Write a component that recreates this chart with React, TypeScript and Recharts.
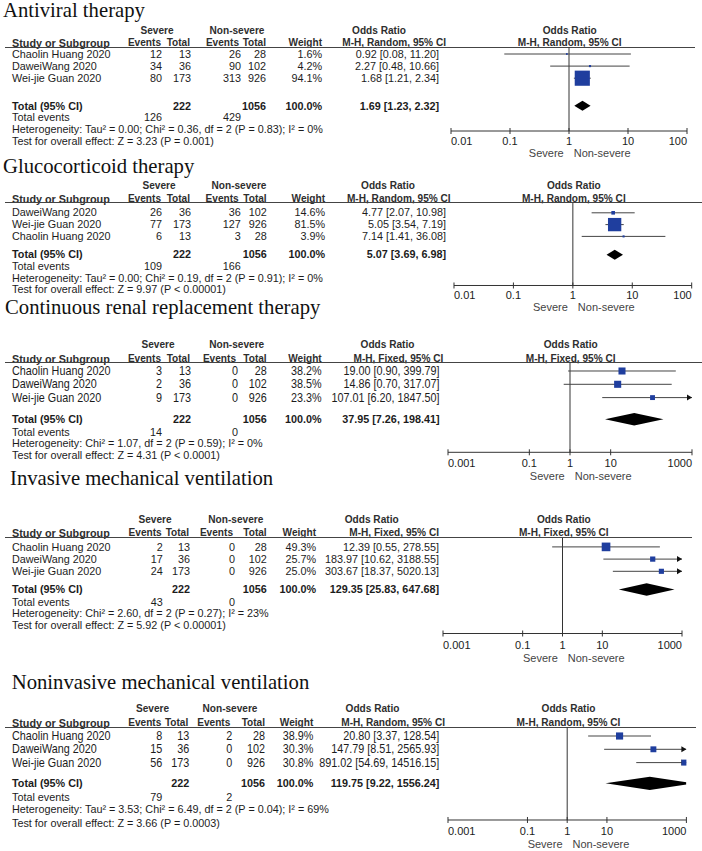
import React from "react";
import { ScatterChart, Scatter, XAxis, YAxis, ReferenceLine } from "recharts";

// ---------------- DATA ----------------
const panelTitles = [
  "Antiviral therapy",
  "Glucocorticoid therapy",
  "Continuous renal replacement therapy",
  "Invasive mechanical ventilation",
  "Noninvasive mechanical ventilation",
];
const panelMethods = [
  "M-H, Random, 95% CI",
  "M-H, Random, 95% CI",
  "M-H, Fixed, 95% CI",
  "M-H, Fixed, 95% CI",
  "M-H, Random, 95% CI",
];

// [study, severe events, severe total, non-severe events, non-severe total, weight %, OR, CI low, CI high]
const antiviralRows = [
  ["Chaolin Huang 2020", 12, 13, 26, 28, 1.6, 0.92, 0.08, 11.2],
  ["DaweiWang 2020", 34, 36, 90, 102, 4.2, 2.27, 0.48, 10.66],
  ["Wei-jie Guan 2020", 80, 173, 313, 926, 94.1, 1.68, 1.21, 2.34],
];
const glucocorticoidRows = [
  ["DaweiWang 2020", 26, 36, 36, 102, 14.6, 4.77, 2.07, 10.98],
  ["Wei-jie Guan 2020", 77, 173, 127, 926, 81.5, 5.05, 3.54, 7.19],
  ["Chaolin Huang 2020", 6, 13, 3, 28, 3.9, 7.14, 1.41, 36.08],
];
const crrtRows = [
  ["Chaolin Huang 2020", 3, 13, 0, 28, 38.2, 19.0, 0.9, 399.79],
  ["DaweiWang 2020", 2, 36, 0, 102, 38.5, 14.86, 0.7, 317.07],
  ["Wei-jie Guan 2020", 9, 173, 0, 926, 23.3, 107.01, 6.2, 1847.5],
];
const invasiveRows = [
  ["Chaolin Huang 2020", 2, 13, 0, 28, 49.3, 12.39, 0.55, 278.55],
  ["DaweiWang 2020", 17, 36, 0, 102, 25.7, 183.97, 10.62, 3188.55],
  ["Wei-jie Guan 2020", 24, 173, 0, 926, 25.0, 303.67, 18.37, 5020.13],
];
const noninvasiveRows = [
  ["Chaolin Huang 2020", 8, 13, 2, 28, 38.9, 20.8, 3.37, 128.54],
  ["DaweiWang 2020", 15, 36, 0, 102, 30.3, 147.79, 8.51, 2565.93],
  ["Wei-jie Guan 2020", 56, 173, 0, 926, 30.8, 891.02, 54.69, 14516.15],
];
const panelRows = [antiviralRows, glucocorticoidRows, crrtRows, invasiveRows, noninvasiveRows];

// [severe total, non-severe total, weight %, OR, CI low, CI high, severe events, non-severe events]
const pooledTotals = [
  [222, 1056, 100, 1.69, 1.23, 2.32, 126, 429],
  [222, 1056, 100, 5.07, 3.69, 6.98, 109, 166],
  [222, 1056, 100, 37.95, 7.26, 198.41, 14, 0],
  [222, 1056, 100, 129.35, 25.83, 647.68, 43, 0],
  [222, 1056, 100, 119.75, 9.22, 1556.24, 79, 2],
];
const heterogeneityTexts = [
  "Heterogeneity: Tau\u00b2 = 0.00; Chi\u00b2 = 0.36, df = 2 (P = 0.83); I\u00b2 = 0%",
  "Heterogeneity: Tau\u00b2 = 0.00; Chi\u00b2 = 0.19, df = 2 (P = 0.91); I\u00b2 = 0%",
  "Heterogeneity: Chi\u00b2 = 1.07, df = 2 (P = 0.59); I\u00b2 = 0%",
  "Heterogeneity: Chi\u00b2 = 2.60, df = 2 (P = 0.27); I\u00b2 = 23%",
  "Heterogeneity: Tau\u00b2 = 3.53; Chi\u00b2 = 6.49, df = 2 (P = 0.04); I\u00b2 = 69%",
];
const overallEffectTexts = [
  "Test for overall effect: Z = 3.23 (P = 0.001)",
  "Test for overall effect: Z = 9.97 (P < 0.00001)",
  "Test for overall effect: Z = 4.31 (P < 0.0001)",
  "Test for overall effect: Z = 5.92 (P < 0.00001)",
  "Test for overall effect: Z = 3.66 (P = 0.0003)",
];
const axisTicks = [
  [0.01, 0.1, 1, 10, 100],
  [0.01, 0.1, 1, 10, 100],
  [0.001, 0.1, 1, 10, 1000],
  [0.001, 0.1, 1, 10, 1000],
  [0.001, 0.1, 1, 10, 1000],
];
const favoursLabels = ["Severe", "Non-severe"];

// ---------------- LAYOUT (pixels) ----------------
const LAYOUT = [
  { tx: 3, tyBase: 17.3, h1: 31, h2: 43.3, line: 47, lineEnd: 695, row0: 54, step: 12.1, total: 105.7, tev: 117.3, het: 129.3, test: 141, axis: 131, tickDy: 10, sev: 153, xMin: 450.7, xMax: 686.7, cols: [162, 191, 241, 266, 322, 439], sevC: 157, nsC: 237, orC: 379, mhR: 446, dh: 5, sy: 1.0 },
  { tx: 3, tyBase: 173.5, h1: 185.5, h2: 198.7, line: 202.5, lineEnd: 701.7, row0: 212.3, step: 11.8, total: 254.3, tev: 266, het: 277.7, test: 289.3, axis: 285, tickDy: 10, sev: 306.7, xMin: 454, xMax: 691.7, cols: [162, 191, 240.7, 266.7, 325, 446], sevC: 159, nsC: 239, orC: 388, mhR: 450.7, dh: 5, sy: 1.0 },
  { tx: 5, tyBase: 314, h1: 345, h2: 359, line: 362, lineEnd: 701.7, row0: 371, step: 13.3, total: 419.3, tev: 431.7, het: 443.3, test: 455, axis: 452.3, tickDy: 10.4, sev: 476, xMin: 447.7, xMax: 691.7, cols: [162, 191, 238, 266.7, 321.7, 439.5], sevC: 158, nsC: 236.7, orC: 387.5, mhR: 443.3, dh: 6.3, sy: 1.1 },
  { tx: 10, tyBase: 485, h1: 520, h2: 533.3, line: 537.8, lineEnd: 691.7, row0: 546.7, step: 12.2, total: 589.3, tev: 601.7, het: 613.3, test: 625, axis: 633.3, tickDy: 11, sev: 658.3, xMin: 443.3, xMax: 682.3, cols: [162.7, 190, 235, 266.7, 316, 439], sevC: 155, nsC: 235.8, orC: 371.7, mhR: 439, dh: 6.3, sy: 1.0 },
  { tx: 11.7, tyBase: 689, h1: 709.3, h2: 722.7, line: 727, lineEnd: 695.7, row0: 736, step: 13.3, total: 783.3, tev: 796.7, het: 809.3, test: 822.7, axis: 820, tickDy: 11.5, sev: 843.8, xMin: 448.3, xMax: 686.7, cols: [162.3, 189.3, 232.3, 265, 313.3, 439.3], sevC: 152.5, nsC: 230, orC: 372.5, mhR: 445, dh: 6.6, sy: 1.1 },
];

const SANS = "'Liberation Sans', Arial, Helvetica, sans-serif";
const SERIF = "'Liberation Serif', 'Times New Roman', serif";
const FS = 10.8;
const HFS = 10.1;
const BLUE = "#1f3e9e";
const TXT = "#1c1c1c";
const HDR = "#2e2e2e";

type TxtProps = { x: number; y: number; a?: "start" | "middle" | "end"; b?: boolean; fs?: number; c?: string; ff?: string; sy?: number; lh?: number; children: React.ReactNode };
function Txt({ x, y, a = "start", b = false, fs = FS, c = TXT, ff = SANS, sy = 1, lh = 0.78, children }: TxtProps) {
  const tx = a === "end" ? "-100%" : a === "middle" ? "-50%" : "0";
  return (
    <div
      style={{
        position: "absolute",
        left: x,
        top: y,
        transform: `translate(${tx}, -50%) scaleY(${sy})`,
        fontSize: fs,
        lineHeight: lh,
        fontWeight: b ? 700 : 400,
        color: c,
        fontFamily: ff,
        whiteSpace: "nowrap",
      }}
    >
      {children}
    </div>
  );
}

const fmt2 = (v: number) => v.toFixed(2);
const ciText = (or: number, lo: number, hi: number) => `${fmt2(or)} [${fmt2(lo)}, ${fmt2(hi)}]`;

const Empty = () => <g />;

const Square = (p: any) => {
  const s = 1.5 + 0.145 * p.payload.w;
  return <rect x={p.cx - s / 2} y={p.cy - s / 2} width={s} height={s} fill={BLUE} />;
};

const ciLine = (arrowRight: boolean) => (lp: any) => {
  const pts = lp.points || [];
  if (pts.length < 2) return <g />;
  const a = pts[0];
  const b = pts[1];
  return (
    <g>
      <line x1={a.x} y1={a.y} x2={b.x} y2={b.y} stroke="#444" strokeWidth={1} />
      {arrowRight && (
        <polygon points={`${b.x},${b.y} ${b.x - 5},${b.y - 3} ${b.x - 5},${b.y + 3}`} fill="#111" />
      )}
    </g>
  );
};

function clipX(poly: number[][], xc: number, keepGreater: boolean) {
  const out: number[][] = [];
  for (let i = 0; i < poly.length; i++) {
    const P = poly[i];
    const Q = poly[(i + 1) % poly.length];
    const inP = keepGreater ? P[0] >= xc : P[0] <= xc;
    const inQ = keepGreater ? Q[0] >= xc : Q[0] <= xc;
    if (inP) out.push(P);
    if (inP !== inQ) {
      const t = (xc - P[0]) / (Q[0] - P[0]);
      out.push([xc, P[1] + t * (Q[1] - P[1])]);
    }
  }
  return out;
}

const diamondLine = (h: number) => (lp: any) => {
  const pts = lp.points || [];
  if (pts.length < 5) return <g />;
  const [lo, mid, hi, left, right] = pts;
  const cy = mid.y;
  let poly = [
    [lo.x, cy],
    [mid.x, cy - h],
    [hi.x, cy],
    [mid.x, cy + h],
  ];
  poly = clipX(poly, left.x, true);
  poly = clipX(poly, right.x, false);
  return <polygon points={poly.map((p) => p.join(",")).join(" ")} fill="#000" />;
};

function ForestPlot({ idx }: { idx: number }) {
  const L = LAYOUT[idx];
  const rows = panelRows[idx];
  const tot = pooledTotals[idx];
  const ticks = axisTicks[idx];
  const dMin = ticks[0];
  const dMax = ticks[ticks.length - 1];
  const plotW = L.xMax - L.xMin;
  const plotH = L.axis - L.line;
  const mX = 20;
  const mT = 2;
  const axisH = 30;
  const rTop = (L.line - L.row0) / L.step;
  const rBot = (L.axis - L.row0) / L.step;
  const rTotal = (L.total - L.row0) / L.step;
  const clamp = (v: number) => Math.max(dMin, Math.min(dMax, v));

  const squares = rows.map((r: any[], i: number) => ({ x: r[6], y: i, w: r[5] }));
  const diamondData = [
    { x: tot[4], y: rTotal },
    { x: tot[3], y: rTotal },
    { x: tot[5], y: rTotal },
    { x: dMin, y: rTotal },
    { x: dMax, y: rTotal },
  ];

  const tickRenderer = (props: any) => {
    const { x, y, payload } = props;
    const v = payload.value;
    const anchor = v === dMin ? "start" : v === dMax ? "end" : "middle";
    return (
      <g>
        <line x1={x} x2={x} y1={y - 3} y2={y + 3} stroke="#333" strokeWidth={1} />
        <text
          x={x}
          y={y + L.tickDy}
          textAnchor={anchor}
          dominantBaseline="central"
          fontSize={11}
          fill={TXT}
          fontFamily={SANS}
        >
          {String(v)}
        </text>
      </g>
    );
  };

  return (
    <div style={{ position: "absolute", left: L.xMin - mX, top: L.line - mT }}>
      <ScatterChart
        width={plotW + 2 * mX}
        height={plotH + mT + axisH}
        margin={{ top: mT, right: mX, bottom: 0, left: mX }}
      >
        <XAxis
          type="number"
          dataKey="x"
          scale="log"
          domain={[dMin, dMax]}
          ticks={ticks}
          interval={0}
          allowDataOverflow
          height={axisH}
          stroke="#333"
          tickLine={false}
          tickSize={0}
          tickMargin={0}
          tick={tickRenderer}
        />
        <YAxis type="number" dataKey="y" domain={[rTop, rBot]} reversed hide allowDataOverflow />
        <ReferenceLine x={1} stroke="#333" strokeWidth={1} />
        {rows.map((r: any[], i: number) => (
          <Scatter
            key={`ci-${i}`}
            data={[
              { x: clamp(r[7]), y: i },
              { x: clamp(r[8]), y: i },
            ]}
            line={ciLine(r[8] > dMax)}
            lineType="joint"
            shape={Empty}
            isAnimationActive={false}
          />
        ))}
        <Scatter data={squares} shape={Square} isAnimationActive={false} />
        <Scatter
          data={diamondData}
          line={diamondLine(L.dh)}
          lineType="joint"
          shape={Empty}
          isAnimationActive={false}
        />
      </ScatterChart>
    </div>
  );
}

function Panel({ idx }: { idx: number }) {
  const L = LAYOUT[idx];
  const rows = panelRows[idx];
  const tot = pooledTotals[idx];
  const ticks = axisTicks[idx];
  const [c1, c2, c3, c4, c5, c6] = L.cols;
  const rowY = (i: number) => L.row0 + i * L.step;
  const dMin = ticks[0];
  const dMax = ticks[ticks.length - 1];
  const x1 = L.xMin + ((L.xMax - L.xMin) * (0 - Math.log10(dMin))) / (Math.log10(dMax) - Math.log10(dMin));
  const plotC = (L.xMin + L.xMax) / 2 + 1;
  const titleFs = 20.7;
  const sy = L.sy;

  return (
    <>
      <Txt x={L.tx} y={L.tyBase - 0.34 * titleFs} fs={titleFs} ff={SERIF} c="#111" lh={0.9}>
        {panelTitles[idx]}
      </Txt>
      {/* header row 1 */}
      <Txt x={L.sevC} y={L.h1} a="middle" b fs={HFS} c={HDR}>Severe</Txt>
      <Txt x={L.nsC} y={L.h1} a="middle" b fs={HFS} c={HDR}>Non-severe</Txt>
      <Txt x={L.orC} y={L.h1} a="middle" b fs={HFS} c={HDR}>Odds Ratio</Txt>
      <Txt x={plotC} y={L.h1} a="middle" b fs={HFS} c={HDR}>Odds Ratio</Txt>
      {/* header row 2 */}
      <Txt x={12} y={L.h2} b fs={FS} c={HDR}>Study or Subgroup</Txt>
      <Txt x={c1 - 1} y={L.h2} a="end" b fs={HFS} c={HDR}>Events</Txt>
      <Txt x={c2 - 1} y={L.h2} a="end" b fs={HFS} c={HDR}>Total</Txt>
      <Txt x={c3 - 2} y={L.h2} a="end" b fs={HFS} c={HDR}>Events</Txt>
      <Txt x={c4} y={L.h2} a="end" b fs={HFS} c={HDR}>Total</Txt>
      <Txt x={c5} y={L.h2} a="end" b fs={HFS} c={HDR}>Weight</Txt>
      <Txt x={L.mhR} y={L.h2} a="end" b fs={HFS} c={HDR}>{panelMethods[idx]}</Txt>
      <Txt x={plotC} y={L.h2} a="middle" b fs={HFS} c={HDR}>{panelMethods[idx]}</Txt>
      <div
        style={{
          position: "absolute",
          left: 5,
          top: L.line - 0.5,
          width: L.lineEnd - 5,
          height: 1,
          background: "#444",
        }}
      />
      {/* study rows */}
      {rows.map((r: any[], i: number) => (
        <React.Fragment key={i}>
          <Txt x={12} y={rowY(i)} sy={sy}>{r[0]}</Txt>
          <Txt x={c1} y={rowY(i)} a="end" sy={sy}>{r[1]}</Txt>
          <Txt x={c2} y={rowY(i)} a="end" sy={sy}>{r[2]}</Txt>
          <Txt x={c3} y={rowY(i)} a="end" sy={sy}>{r[3]}</Txt>
          <Txt x={c4} y={rowY(i)} a="end" sy={sy}>{r[4]}</Txt>
          <Txt x={c5} y={rowY(i)} a="end" sy={sy}>{`${(r[5] as number).toFixed(1)}%`}</Txt>
          <Txt x={c6} y={rowY(i)} a="end" sy={sy}>{ciText(r[6], r[7], r[8])}</Txt>
        </React.Fragment>
      ))}
      {/* total row */}
      <Txt x={12} y={L.total} b>Total (95% CI)</Txt>
      <Txt x={c2} y={L.total} a="end" b>{tot[0]}</Txt>
      <Txt x={c4} y={L.total} a="end" b>{tot[1]}</Txt>
      <Txt x={c5} y={L.total} a="end" b>{`${tot[2].toFixed(1)}%`}</Txt>
      <Txt x={c6} y={L.total} a="end" b>{ciText(tot[3], tot[4], tot[5])}</Txt>
      <Txt x={12} y={L.tev}>Total events</Txt>
      <Txt x={c1} y={L.tev} a="end">{tot[6]}</Txt>
      <Txt x={c3} y={L.tev} a="end">{tot[7]}</Txt>
      <Txt x={12} y={L.het}>{heterogeneityTexts[idx]}</Txt>
      <Txt x={12} y={L.test}>{overallEffectTexts[idx]}</Txt>
      <ForestPlot idx={idx} />
      <Txt x={x1 - 5} y={L.sev} a="end" fs={11} c="#444">{favoursLabels[0]}</Txt>
      <Txt x={x1 + 5} y={L.sev} fs={11} c="#444">{favoursLabels[1]}</Txt>
    </>
  );
}

export default function App() {
  return (
    <div
      style={{
        position: "absolute",
        left: 0,
        top: 0,
        width: 702,
        height: 851,
        background: "#fff",
        overflow: "hidden",
      }}
    >
      {panelTitles.map((_, i) => (
        <Panel key={i} idx={i} />
      ))}
    </div>
  );
}
